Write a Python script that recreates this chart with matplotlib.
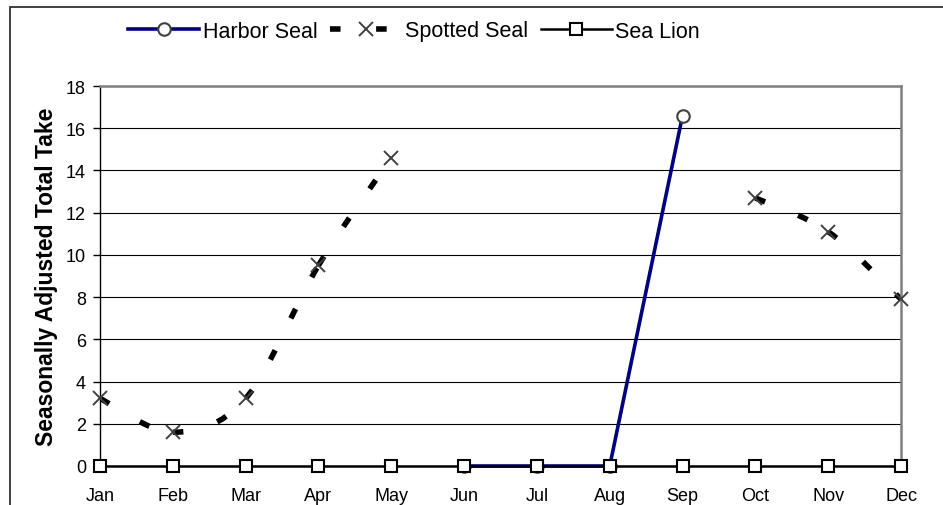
import numpy as np
import matplotlib
matplotlib.use('Agg')
import matplotlib.pyplot as plt
from matplotlib.path import Path
from matplotlib.patches import PathPatch, Rectangle
from matplotlib.lines import Line2D

plt.rcParams['font.family'] = ['Liberation Sans', 'DejaVu Sans']

months = ['Jan', 'Feb', 'Mar', 'Apr', 'May', 'Jun', 'Jul', 'Aug', 'Sep', 'Oct', 'Nov', 'Dec']
nan = np.nan
harbor_seal = [nan, nan, nan, nan, nan, 0, 0, 0, 16.6, nan, nan, nan]
spotted_seal = [3.2, 1.6, 3.2, 9.5, 14.6, nan, nan, nan, nan, 12.7, 11.1, 7.9]
sea_lion = [0, 0, 0, 0, 0, 0, 0, 0, 0, 0, 0, 0]
y_ticks = [0, 2, 4, 6, 8, 10, 12, 14, 16, 18]
series_names = ['Harbor Seal', 'Spotted Seal', 'Sea Lion']

W, H = 943, 506
fig = plt.figure(figsize=(W / 100, H / 100), dpi=100)
ax = fig.add_axes([100 / W, 1 - 467 / H, 801 / W, 380 / H])

x = np.arange(len(months))


def smooth_paths(xv, yv):
    """Excel-like smoothed line: cubic Bezier per segment (Catmull-Rom control points)."""
    yv = np.asarray(yv, dtype=float)
    paths = []
    i = 0
    n = len(yv)
    while i < n:
        if np.isnan(yv[i]):
            i += 1
            continue
        j = i
        while j + 1 < n and not np.isnan(yv[j + 1]):
            j += 1
        pts = np.column_stack([xv[i:j + 1], yv[i:j + 1]])
        m = len(pts)
        for k in range(m - 1):
            p0 = pts[max(k - 1, 0)]
            p1 = pts[k]
            p2 = pts[k + 1]
            p3 = pts[min(k + 2, m - 1)]
            c1 = p1 + (p2 - p0) / 6.0
            c2 = p2 - (p3 - p1) / 6.0
            paths.append(Path([p1, c1, c2, p2],
                              [Path.MOVETO, Path.CURVE4, Path.CURVE4, Path.CURVE4]))
        i = j + 1
    return paths


dash_lw = 4.0
dash_style = (0, (1.9, 6.4))

# Harbor Seal
ax.plot(x, harbor_seal, color='#000080', lw=2.6, marker='o', ms=9,
        mfc='white', mec='#404040', mew=1.5, zorder=3, clip_on=False)

# Spotted Seal (smoothed dashed line + markers)
for p in smooth_paths(x, spotted_seal):
    ax.add_patch(PathPatch(p, fill=False, edgecolor='black', lw=dash_lw,
                           linestyle=dash_style, capstyle='butt', zorder=2))
ax.plot(x, spotted_seal, ls='none', marker='x', ms=9.5, mew=1.4,
        color='#404040', zorder=4, clip_on=False)

# Sea Lion
ax.plot(x, sea_lion, color='black', lw=1.8, marker='s', ms=8,
        mfc='white', mec='black', mew=1.5, zorder=5, clip_on=False)

ax.set_xlim(0, len(months) - 1)
ax.set_ylim(0, 18)
ax.set_xticks(x)
ax.set_xticklabels(months)
ax.set_yticks(y_ticks)
ax.yaxis.grid(True, color='black', lw=0.8)
ax.set_axisbelow(True)

ax.tick_params(axis='x', length=0, pad=15, labelsize=13)
ax.tick_params(axis='y', length=5, width=1, pad=5, labelsize=13, direction='out')

for s in ['top', 'right']:
    ax.spines[s].set_color('#808080')
    ax.spines[s].set_linewidth(1.8)
ax.spines['left'].set_color('black')
ax.spines['left'].set_linewidth(1.0)
ax.spines['bottom'].set_color('black')

ax.set_ylabel('Seasonally Adjusted Total Take', fontsize=16.5, fontweight='bold')
ax.yaxis.set_label_coords(-42 / 801, 0.5)

# Outer chart frame (partially cropped)
fig.add_artist(Rectangle((9.5 / W, -0.1), 2, 1 - 7.5 / H + 0.1,
                         transform=fig.transFigure, fill=False,
                         edgecolor='#303030', lw=1.3))

handles = [
    Line2D([], [], color='#000080', lw=2.6, marker='o', ms=9, mfc='white',
           mec='#404040', mew=1.5),
    Line2D([], [], color='black', lw=dash_lw, linestyle=dash_style,
           dash_capstyle='butt', marker='x', ms=9.5, mew=1.4, mec='#404040'),
    Line2D([], [], color='black', lw=1.8, marker='s', ms=8, mfc='white',
           mec='black', mew=1.5),
]
fig.legend(handles, series_names, loc='center', bbox_to_anchor=(414 / W, 1 - 32 / H),
           ncol=3, frameon=False, fontsize=15.5, handlelength=3.3,
           handletextpad=0.15, columnspacing=0.6, borderpad=0, numpoints=1)

fig.savefig('out.png', dpi=100)
